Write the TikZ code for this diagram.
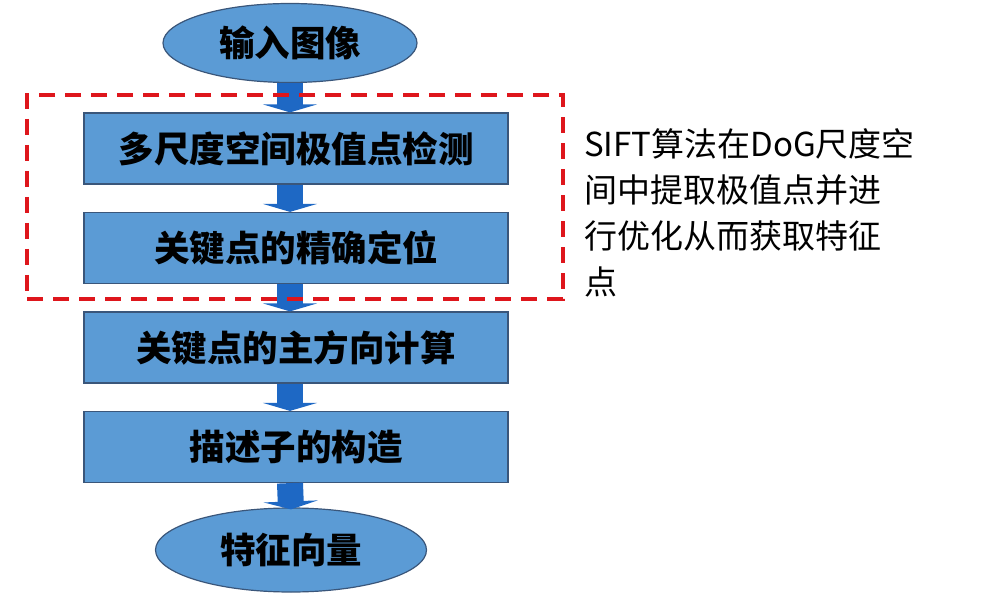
\documentclass[tikz,border=0pt]{standalone}
\usepackage{fontspec}
\setmainfont{Noto Sans CJK SC}
\usetikzlibrary{shapes.geometric,arrows.meta}
\definecolor{boxblue}{RGB}{91,155,213}
\definecolor{arrblue}{RGB}{30,104,196}
\definecolor{edgeline}{RGB}{58,86,122}
\definecolor{dashred}{RGB}{222,22,28}
\begin{document}
\begin{tikzpicture}[x=1pt,y=-1pt,
  stepbox/.style={rectangle,draw=edgeline,line width=1.2pt,fill=boxblue,
    minimum width=424pt,minimum height=71pt,inner sep=0pt,
    font=\fontsize{35.5}{40}\selectfont\bfseries},
  term/.style={ellipse,draw=edgeline,line width=1.2pt,fill=boxblue,inner sep=0pt,
    font=\fontsize{35.5}{40}\selectfont\bfseries},
  flow/.style={arrblue,line width=26pt,-{Triangle[width=54pt,length=8pt]}},
  group/.style={draw=dashred,line width=4pt,dash pattern=on 16pt off 10pt,
    minimum width=536pt,minimum height=204pt,inner sep=0pt}]
\useasboundingbox (0,0) rectangle (990,593);

\node[term,minimum width=254pt,minimum height=79pt] (in) at (290,43) {输入图像};
\node[stepbox] (b1) at (296,148.5) {多尺度空间极值点检测};
\node[stepbox] (b2) at (296,248) {关键点的精确定位};
\node[stepbox] (b3) at (296,347.5) {关键点的主方向计算};
\node[stepbox] (b4) at (296,447) {描述子的构造};
\node[term,minimum width=271pt,minimum height=84pt] (out) at (291,550) {特征向量};

\draw[flow] (in.south) -- (in.south |- b1.north);
\draw[flow] (b1.south -| in.south) -- (in.south |- b2.north);
\draw[flow] (b2.south -| in.south) -- (in.south |- b3.north);
\draw[flow] (b3.south -| in.south) -- (in.south |- b4.north);
\draw[flow] (b4.south -| in.south) -- ([yshift=-2pt]out.north);

\node[group] (grp) at (295,197) {};

\node[anchor=north west,align=left,inner sep=0pt,
  font=\fontsize{33}{46}\selectfont] (note) at (584,128)
  {SIFT算法在DoG尺度空\\间中提取极值点并进\\行优化从而获取特征\\点};
\end{tikzpicture}
\end{document}
